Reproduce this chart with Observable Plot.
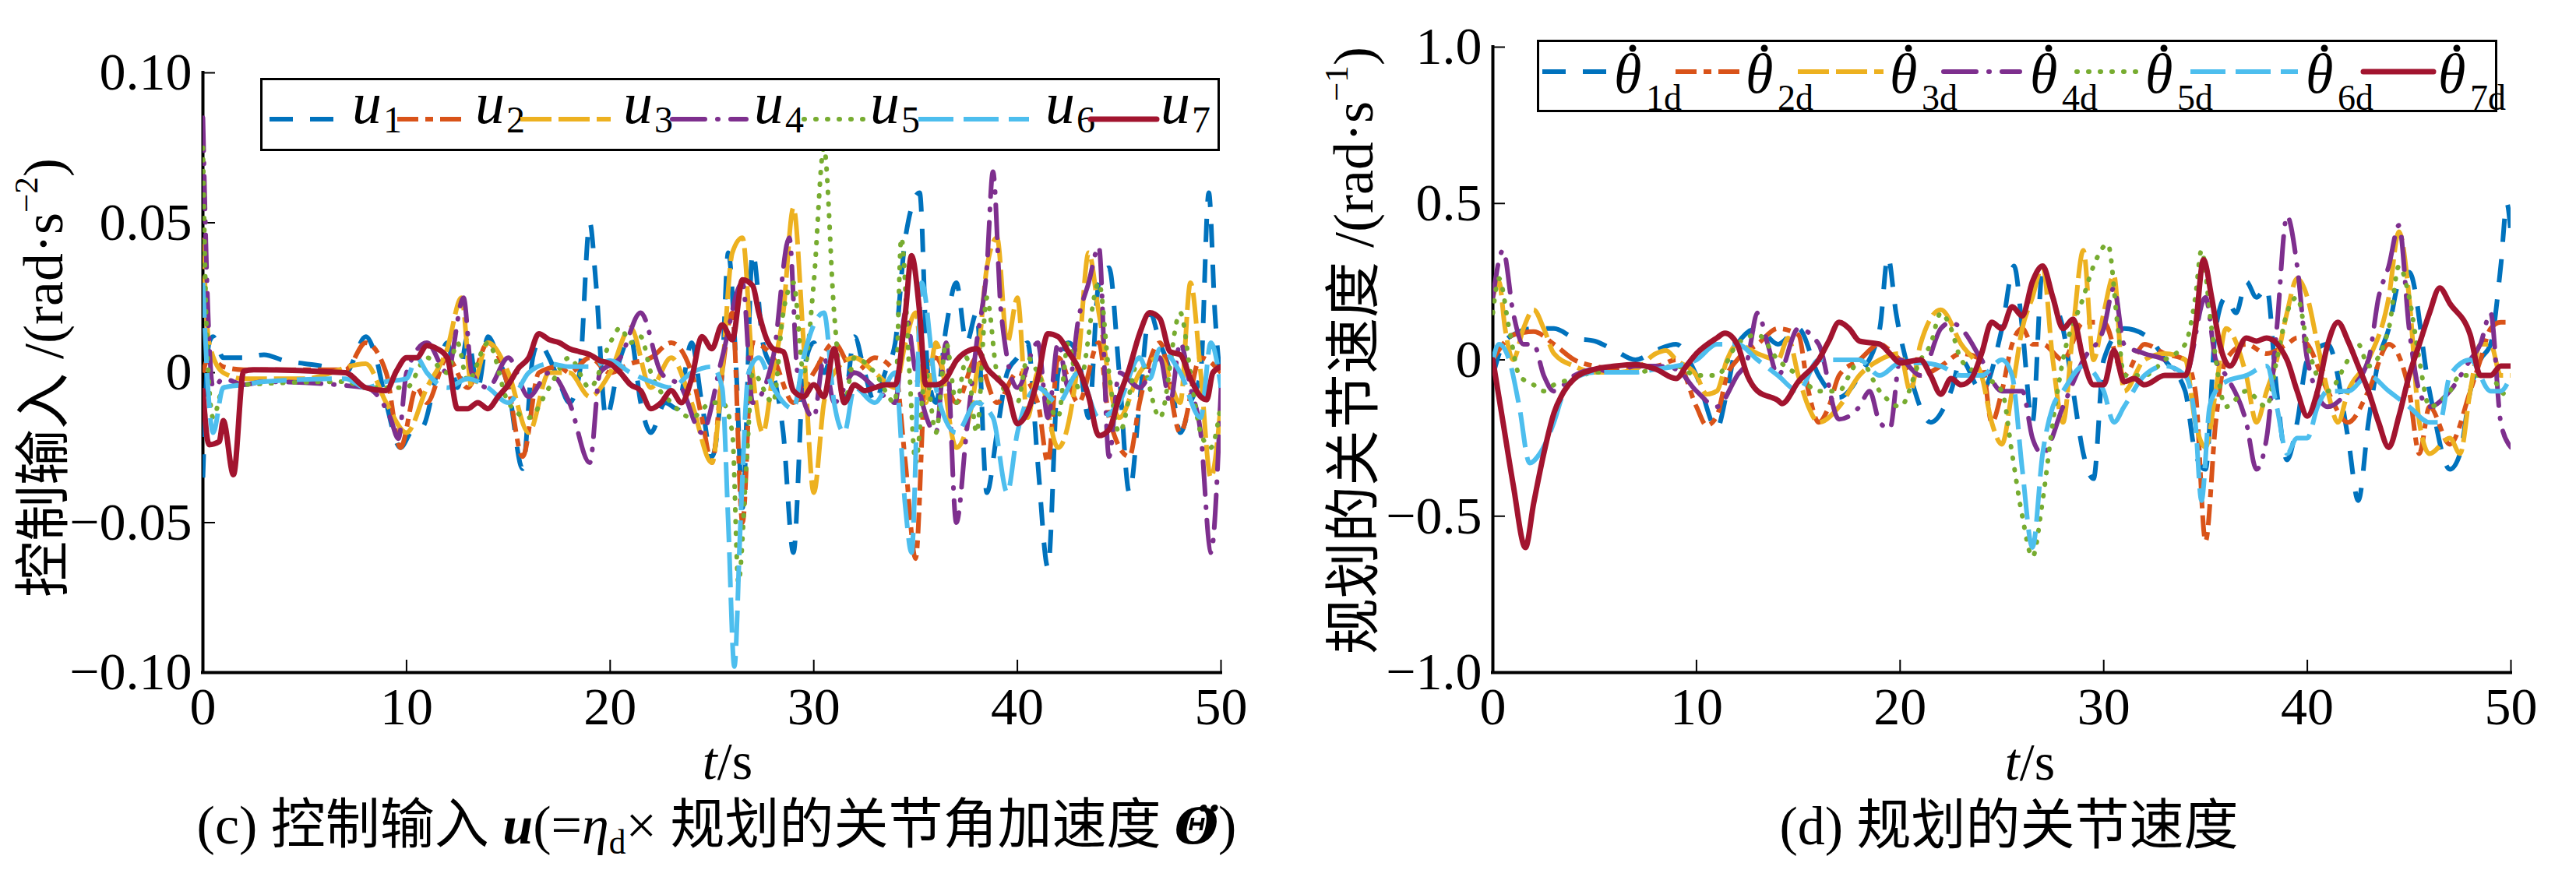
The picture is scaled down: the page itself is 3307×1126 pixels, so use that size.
<!DOCTYPE html>
<html><head><meta charset="utf-8">
<script src="https://cdn.jsdelivr.net/npm/d3@7"></script>
<script src="https://cdn.jsdelivr.net/npm/@observablehq/plot@0.6"></script>
<style>
body{margin:0;background:#fff;}
#wrap{position:relative;width:3307px;height:1126px;background:#fff;overflow:hidden;font-family:"Liberation Serif","Times New Roman","Noto Sans CJK SC",serif;color:#000;}
.abs{position:absolute;white-space:nowrap;line-height:1;}
.ylab{font-size:72px;transform:translate(-50%,-50%) rotate(-90deg);}
.ctr{font-size:68px;transform:translate(-50%,-50%);}
.cap{font-size:70px;transform:translate(-50%,-50%);}
.dv{font-family:"DejaVu Serif",serif;font-size:0.92em;}
sup{font-size:0.6em;vertical-align:0.75em;line-height:0;}
sub{font-size:0.62em;vertical-align:-0.3em;line-height:0;}
</style></head>
<body>
<div id="wrap">
  <div id="left" class="abs" style="left:0;top:0"></div>
  <div id="right" class="abs" style="left:1650px;top:0"></div>
  <div class="abs ylab" style="left:56px;top:485px">控制输入 /(rad·s<sup>−2</sup>)</div>
  <div class="abs ylab" style="left:1738px;top:450px">规划的关节速度 /(rad·s<sup>−1</sup>)</div>
  <div class="abs ctr" style="left:934px;top:977px"><i>t</i>/s</div>
  <div class="abs ctr" style="left:2606px;top:978px"><i>t</i>/s</div>
  <div class="abs cap" style="left:920px;top:1060px">(c) 控制输入 <b><i>u</i></b>(=<i>η</i><sub>d</sub>× 规划的关节角加速度 <b><i class="dv">Θ̈</i></b>)</div>
  <div class="abs cap" style="left:2579px;top:1061px">(d) 规划的关节速度</div>
</div>
<script>
// ---------- data: time axis ticks ----------
const tTicks = [0, 10, 20, 30, 40, 50];
const uTicks = [-0.1, -0.05, 0, 0.05, 0.1];
const vTicks = [-1, -0.5, 0, 0.5, 1];

// ---------- (c) control inputs u1..u7 : [t, value] ----------
const u1 = [[0,-0.035],[0.3,0.01],[0.5,0.012],[1,0.005],[2,0.005],[3,0.006],[4,0.004],[5,0.003],[6,0.002],[7,0],[8,0.012],[8.5,0.005],[9,-0.01],[9.7,-0.025],[10.2,-0.02],[10.8,-0.018],[11.5,0],[12,0.01],[12.5,-0.005],[13,0.012],[13.5,-0.005],[14,0.012],[14.5,0.005],[15,-0.005],[15.7,-0.032],[16.2,0.005],[16.5,0.01],[17,0.005],[17.5,-0.003],[18,-0.01],[18.5,0],[19,0.05],[19.3,0.03],[19.8,-0.015],[20.5,0.005],[21,0.012],[21.5,-0.01],[22,-0.02],[22.7,-0.01],[23.3,-0.012],[24,0.01],[24.5,-0.01],[25,-0.028],[25.5,0],[25.8,0.04],[26.2,0],[26.5,-0.045],[27,0.04],[27.5,0.01],[28,0],[28.5,-0.02],[29,-0.06],[29.5,0],[30,0.01],[30.5,0],[31,0.008],[31.5,-0.01],[32,0.012],[32.5,0],[33,-0.01],[33.5,0],[34,0.01],[34.5,0.045],[35.2,0.06],[35.6,0],[36,-0.01],[36.5,0.015],[37,0.03],[37.5,0.01],[38,0.02],[38.5,-0.04],[39,-0.02],[39.5,0],[40,0.005],[40.5,0.01],[41,-0.03],[41.5,-0.065],[42,0],[42.5,0.01],[43,0.005],[43.5,-0.015],[44,0.03],[44.5,0.035],[45,0],[45.5,-0.04],[46,-0.01],[46.5,0.02],[47,0.01],[47.5,0],[48,-0.02],[48.5,-0.01],[49,0],[49.4,0.06],[49.7,0.02],[50,-0.005]];
const u2 = [[0,0],[0.3,0.005],[1,0.002],[2,0.001],[7,0.001],[8,0.01],[9,0],[9.7,-0.025],[10.5,-0.005],[11,-0.01],[12,0.005],[13,-0.005],[14,0.01],[15,-0.005],[15.7,-0.028],[16.5,0],[17.5,0.002],[18,0],[19,0.005],[20,0],[21,0.003],[22,0.005],[23,0.01],[24,0],[24.5,-0.015],[25,-0.03],[25.5,0],[26,0.02],[26.5,-0.05],[27,0.01],[28,0.005],[29,-0.01],[30,0],[31,0.01],[32,0],[33,0.005],[34,0],[34.5,-0.03],[35,-0.062],[35.5,0],[36,0.005],[37,-0.01],[38,0.005],[39,-0.01],[40,0],[41,-0.01],[41.5,-0.03],[42,0.005],[43,-0.01],[44,0.01],[44.5,-0.015],[45.5,-0.028],[46,-0.01],[47,0.01],[48,-0.02],[49,0.005],[50,0]];
const u3 = [[0,0.045],[0.3,0.01],[1,0],[2,-0.002],[5,-0.002],[8,0.003],[9,-0.01],[10,-0.02],[11,-0.005],[12,0.008],[12.7,0.025],[13.2,-0.005],[14,0.01],[15,0],[16,-0.02],[17,0],[18,0],[19,-0.008],[20,0],[21,0.015],[22,-0.005],[23,0.005],[24,-0.01],[25,-0.03],[25.5,0],[26,0.04],[26.5,0.045],[27,0],[27.5,-0.02],[28,0],[28.5,0.02],[29,0.055],[29.5,0.01],[30,-0.04],[30.5,-0.01],[31,0],[32,0.005],[33,0],[34,-0.005],[34.5,0.01],[35,0.02],[35.5,-0.01],[36,0.01],[37,-0.025],[38,0],[38.5,0.035],[39,0.045],[39.5,0.01],[40,0.025],[40.5,-0.015],[41,0],[42,-0.025],[43,0.005],[43.5,0.04],[44,0.02],[45,-0.015],[46,0],[47,0.005],[48,-0.01],[48.5,0.03],[49,0],[49.5,-0.035],[50,-0.01]];
const u4 = [[0,0.085],[0.2,0.03],[0.5,-0.005],[1,-0.002],[2,-0.004],[3,-0.003],[8,-0.005],[9.2,-0.015],[9.6,-0.022],[10,0],[11,0.01],[12,0],[12.8,0.025],[13.2,0],[14,-0.005],[15,0.005],[16,-0.008],[17,0],[18,-0.01],[19,-0.03],[19.5,0],[20.5,0.005],[21.5,0.02],[22.5,0],[23.5,-0.005],[24.5,-0.02],[25.5,0.005],[26.5,0.03],[27,-0.01],[28,0.005],[28.8,0.045],[29.2,0],[30,-0.015],[30.5,0.005],[31,-0.01],[32,0],[33,-0.005],[34,-0.01],[34.5,0.02],[35,0],[36,-0.02],[36.5,0.01],[37,-0.05],[37.5,-0.02],[38,0.01],[38.5,0.035],[38.8,0.067],[39.2,0.02],[40,-0.005],[41,0.01],[41.5,-0.015],[42,0.01],[42.5,-0.005],[43,0.018],[43.5,0.03],[44,0.042],[44.5,-0.028],[45,0],[46,-0.005],[47,0.005],[47.5,-0.01],[48,0.01],[48.5,-0.005],[49,-0.02],[49.5,-0.06],[50,-0.005]];
const u5 = [[0,0.075],[0.2,0.01],[0.5,-0.015],[1,-0.005],[2,-0.004],[7,-0.003],[8,-0.005],[10,-0.005],[11,0.005],[12,0],[12.5,0.01],[13,-0.003],[14,0.01],[15,-0.01],[16,-0.015],[17,-0.005],[18,0.005],[19,-0.005],[20,0.01],[20.5,0.015],[21,0.01],[21.5,0.012],[22,0],[23,-0.01],[24,-0.015],[25,-0.01],[25.5,-0.01],[26,-0.02],[26.3,-0.07],[26.7,-0.03],[27,0],[28,-0.01],[28.5,0.02],[29,0.03],[29.5,0],[30,0.03],[30.5,0.075],[31,0.02],[31.5,-0.01],[32,0.005],[33,0],[34,-0.01],[34.3,0.045],[34.7,0],[35,-0.03],[35.5,0],[36,-0.02],[36.5,0.01],[37,-0.01],[37.5,0.005],[38,-0.02],[38.5,0.025],[39,0],[40,-0.01],[40.5,0.005],[41,0],[42,-0.015],[42.5,0.01],[43,-0.005],[44,0.03],[44.5,0],[45,-0.02],[46,0.005],[47,-0.015],[48,0.02],[48.5,0],[49,-0.02],[49.5,-0.025],[50,-0.01]];
const u6 = [[0,0.03],[0.3,-0.01],[0.5,-0.02],[1,-0.005],[2,-0.004],[3,-0.003],[7,-0.002],[8,-0.005],[9,-0.003],[10,-0.002],[10.5,0.005],[11,0],[12,-0.005],[13,-0.002],[14,-0.005],[15,-0.01],[16,0],[17,0.003],[18,0.002],[19,0.002],[20,0.004],[21,0],[22,-0.003],[23,-0.005],[24,0],[25,0.002],[25.5,-0.005],[25.8,-0.05],[26.1,-0.098],[26.4,-0.05],[26.8,0],[27.3,0.005],[28,-0.005],[29,-0.012],[29.5,0.005],[30.5,0.02],[31,-0.01],[31.5,-0.02],[32,-0.005],[33,-0.01],[34,0],[34.5,-0.045],[34.8,-0.06],[35.3,0.03],[36,-0.005],[37,-0.02],[38,-0.01],[38.8,-0.015],[39.5,-0.04],[40,-0.02],[41,-0.005],[42,-0.01],[43,0],[44,-0.015],[45,-0.01],[46,0.005],[46.5,-0.002],[47,0.008],[48,0],[49,-0.015],[49.5,0.01],[50,-0.005]];
const u7 = [[0,-0.006],[0.3,-0.024],[0.8,-0.023],[1.0,-0.016],[1.5,-0.034],[2,0.0005],[2.5,0.001],[7,0],[8,-0.005],[9,-0.006],[9.5,0.0005],[10,0.005],[10.5,0.005],[11,0.009],[11.5,0.008],[12,0.005],[12.5,-0.012],[13,-0.012],[13.5,-0.01],[14,-0.012],[14.5,-0.008],[15,-0.004],[15.5,0.0015],[16,0.005],[16.5,0.013],[17,0.011],[17.5,0.01],[18,0.008],[18.5,0.007],[19,0.006],[19.5,0.004],[20,0.003],[20.5,0],[21,-0.004],[21.5,-0.006],[22,-0.012],[22.5,-0.01],[23,-0.006],[23.5,-0.01],[24,-0.002],[24.5,0.012],[25,0.008],[25.5,0.016],[26,0.011],[26.5,0.031],[27,0.029],[27.3,0.02],[27.7,0.011],[28,0.008],[28.5,0.007],[29,-0.006],[29.5,-0.008],[30,-0.004],[30.5,-0.008],[31,0.008],[31.5,-0.01],[32,-0.004],[32.5,-0.006],[33,-0.005],[33.5,-0.004],[34,-0.004],[34.5,0.02],[34.8,0.039],[35.2,0.02],[35.5,-0.004],[36,-0.004],[36.5,-0.002],[37,0.004],[37.5,0.007],[38,0.008],[38.5,0.0015],[39,-0.002],[39.5,-0.006],[40,-0.017],[40.5,-0.013],[41,-0.002],[41.5,0.013],[42,0.012],[42.5,0.007],[43,0.0015],[43.5,-0.008],[44,-0.021],[44.5,-0.019],[45,-0.008],[45.5,0.0015],[46,0.013],[46.5,0.02],[47,0.018],[47.5,0.007],[48,0.006],[48.5,-0.002],[49,-0.008],[49.3,-0.009],[49.6,0],[50,0.002]];

// ---------- (d) planned joint velocities θ1d..θ7d : [t, value] ----------
const th1 = [[0,-0.05],[0.5,0.05],[1,0.08],[2,0.1],[3,0.1],[4,0.07],[5,0.06],[6,0.03],[7,0],[8,0.03],[9,0.05],[10,-0.05],[11,-0.22],[11.5,-0.1],[12,0.05],[13,0.1],[14,0.05],[15,0.1],[16,-0.05],[17,-0.12],[18,-0.05],[19,0.1],[19.4,0.33],[19.8,0.15],[20.5,-0.05],[21.5,-0.2],[22.5,-0.1],[23,0],[24,-0.1],[25,0.1],[25.6,0.3],[26,0.1],[26.5,-0.2],[27,0.29],[27.5,0.2],[28,0.1],[28.5,-0.1],[29,-0.3],[29.5,-0.38],[30,0],[31,0.1],[32,0.08],[32.5,0.05],[33,0],[34,-0.1],[34.5,-0.3],[35,-0.35],[35.5,0.1],[36,0.2],[36.5,0.15],[37,0.25],[37.5,0.2],[38,0.23],[38.5,-0.1],[39,-0.32],[39.5,-0.2],[40,0],[41,0.05],[42,-0.25],[42.5,-0.45],[43,-0.2],[43.5,0],[44,0.1],[44.5,0.25],[45,0.28],[46,-0.1],[47,-0.35],[47.5,-0.3],[48,-0.1],[48.5,0],[49,0.05],[49.5,0.3],[49.8,0.5],[50,0.4]];
const th2 = [[0,0],[0.5,0.05],[1,0.08],[2,0.09],[3,0.05],[4,0],[5,-0.02],[6,-0.03],[7,-0.02],[8,-0.02],[9,0],[10,-0.15],[10.5,-0.21],[11,-0.18],[11.5,-0.05],[12,0],[13,0.05],[14,0.1],[15,0.08],[15.5,-0.1],[16,-0.2],[16.5,-0.15],[17,-0.05],[18,0],[19,0.05],[19.5,0.03],[20,0],[21,-0.05],[22,-0.02],[23,0.02],[24,0],[24.5,-0.2],[25,-0.1],[25.5,0.05],[26,0.1],[26.5,0.05],[27,0.05],[28,0],[29,0.12],[30,0.12],[31,-0.05],[32,0.05],[33,0.02],[34,0],[34.5,-0.1],[35,-0.58],[35.5,-0.2],[36,0],[37,0.05],[38,0.02],[39,0.05],[39.5,0.07],[40,0.05],[41,-0.1],[42,-0.2],[43,-0.1],[44,0.05],[45,-0.1],[45.5,-0.3],[46,-0.15],[47,-0.27],[48,-0.1],[48.5,0],[49,0.1],[49.5,0.12],[50,0.12]];
const th3 = [[0,0.2],[0.3,0.25],[0.6,0.1],[1,0],[1.5,0.1],[2,0.16],[2.5,0.1],[3,0.02],[4,-0.02],[5,-0.04],[6,-0.04],[7,-0.03],[8,0.02],[8.5,0.03],[9,0],[10,-0.05],[10.5,-0.11],[11,-0.1],[11.5,0],[12,0.05],[13,0.02],[14,0],[14.5,0.07],[15,-0.05],[15.5,-0.15],[16,-0.2],[17,-0.15],[18,-0.05],[19,0],[20,0.02],[20.5,-0.1],[21,0.05],[22,0.16],[23,0.05],[24,-0.05],[24.5,-0.2],[25,-0.27],[25.5,-0.1],[26,0.1],[26.5,0.2],[27,0.3],[27.5,0],[28,-0.2],[28.5,0.1],[29,0.35],[29.5,0],[30,0.15],[30.5,0.27],[31,-0.1],[32,0],[33,0.02],[34,0],[34.5,-0.2],[35,-0.28],[35.5,-0.1],[36,0.1],[37,-0.05],[37.5,-0.2],[38,-0.1],[38.5,0],[39,0.15],[39.5,0.26],[40,0.2],[40.5,0.05],[41,-0.1],[41.5,-0.2],[42,-0.1],[43,0],[44,0.2],[44.5,0.41],[45,0.2],[45.5,-0.2],[46,-0.3],[47,-0.25],[47.5,-0.3],[48,-0.1],[48.5,0.05],[49,0.05],[49.5,-0.05],[50,-0.05]];
const th4 = [[0,0.2],[0.5,0.35],[1,0.15],[1.5,0.05],[2,0.05],[2.5,-0.05],[3,-0.1],[4,-0.05],[5,-0.03],[6,-0.04],[7,-0.02],[8,-0.02],[9,-0.03],[10,-0.1],[11,-0.15],[12,-0.05],[12.5,0],[13,0.15],[13.5,0.05],[14,-0.05],[15,0.1],[16,0.05],[17,-0.19],[18,-0.15],[18.5,-0.1],[19,-0.2],[19.5,-0.22],[20,0],[21,-0.05],[22,0.1],[22.5,0.12],[23,0.1],[24,0],[25,-0.1],[26,-0.1],[26.5,-0.25],[27,-0.3],[28,-0.15],[29,0],[30,0.1],[30.5,0.23],[31,0.05],[32,0.02],[33,0],[34,-0.05],[35,0.2],[35.5,0],[36,-0.05],[37,-0.2],[37.5,-0.35],[38,-0.25],[38.5,0.1],[39,0.46],[39.5,0.3],[40,0],[41,-0.15],[42,-0.1],[43,0],[43.5,0.2],[44,0.3],[44.5,0.43],[45,0.1],[45.5,-0.1],[46,-0.15],[47,-0.1],[48,0],[48.5,0.05],[49,0.15],[49.5,-0.2],[50,-0.28]];
const th5 = [[0,0.15],[0.3,0.26],[0.8,0.1],[1.3,-0.05],[2,-0.08],[2.5,-0.1],[3,-0.08],[4,-0.06],[5,-0.04],[7,-0.04],[8,-0.03],[9,-0.02],[10,-0.05],[11,-0.05],[12,0.05],[13,0.08],[14,0],[15,-0.05],[16,-0.1],[17,-0.1],[17.5,-0.05],[18,0],[19,-0.1],[20,-0.15],[21,0],[21.5,0.05],[22,0.15],[22.5,0.1],[23,0],[24,-0.05],[25,-0.1],[25.5,-0.3],[26,-0.5],[26.5,-0.63],[27,-0.45],[27.5,-0.2],[28,0],[29,0.2],[29.5,0.3],[30.2,0.37],[30.7,0.1],[31,-0.05],[32,-0.05],[33,0],[34,0.05],[34.5,0.2],[34.8,0.35],[35.3,0.1],[36,-0.15],[37,-0.1],[38,-0.15],[38.5,0],[39,0.15],[39.5,0.2],[40,0.05],[41,-0.1],[42,0],[42.5,0.05],[43,-0.02],[44,0.1],[44.5,0.3],[45,0.2],[45.5,0],[46,-0.15],[47,-0.1],[47.5,-0.05],[48,-0.05],[49,-0.05],[49.5,-0.1],[50,-0.12]];
const th6 = [[0,0],[0.3,0.05],[0.8,0],[1.3,-0.15],[1.8,-0.33],[2.3,-0.3],[3,-0.2],[3.5,-0.1],[4,-0.06],[5,-0.04],[7,-0.04],[8,-0.03],[9,-0.02],[10,0],[11,0.05],[12,0.05],[13,0],[14,-0.05],[15,-0.1],[16,0],[17,0],[18,0],[19,-0.05],[20,-0.01],[21,-0.01],[22,-0.02],[23,-0.05],[24,-0.05],[25,0],[25.5,-0.05],[26,-0.35],[26.5,-0.6],[27,-0.3],[27.5,-0.15],[28,-0.1],[29,-0.02],[30,-0.1],[30.5,-0.2],[31,-0.15],[32,-0.05],[33,-0.02],[34,-0.05],[34.5,-0.2],[34.8,-0.45],[35.2,-0.15],[35.5,-0.1],[36,-0.07],[37,-0.05],[38,-0.02],[38.5,-0.15],[39,-0.3],[39.5,-0.25],[40,-0.25],[40.5,-0.15],[41,-0.1],[42,-0.1],[43,-0.05],[44,-0.1],[45,-0.15],[46,-0.2],[46.5,-0.2],[47,-0.05],[48,0],[49,-0.1],[49.5,-0.1],[50,-0.05]];
const th7 = [[0,0],[0.5,-0.2],[1,-0.4],[1.6,-0.6],[2,-0.46],[2.5,-0.3],[3,-0.17],[3.5,-0.1],[4,-0.06],[5,-0.03],[6,-0.02],[7,-0.015],[8,-0.03],[9,-0.06],[9.5,-0.02],[10,0.02],[11,0.07],[11.4,0.085],[12,0.05],[12.5,-0.05],[13,-0.1],[14,-0.13],[14.2,-0.14],[15,-0.07],[16,0],[16.5,0.06],[17,0.12],[17.5,0.1],[18,0.06],[19,0.05],[19.5,0.02],[20,-0.01],[21,0],[21.5,-0.05],[22,-0.11],[22.5,-0.06],[23,-0.08],[23.5,-0.06],[24,0.02],[24.5,0.12],[25,0.1],[25.5,0.17],[26,0.14],[26.5,0.25],[27,0.3],[27.5,0.2],[28,0.1],[28.5,0.13],[29,0],[29.5,-0.08],[30,-0.08],[30.5,0.03],[31,-0.07],[31.5,-0.06],[32,-0.08],[33,-0.05],[34,-0.05],[34.5,0.1],[34.9,0.32],[35.3,0.2],[35.7,0.05],[36.2,-0.02],[37,0.07],[37.5,0.06],[38,0.07],[39,0],[39.5,-0.1],[40,-0.18],[40.5,-0.1],[41,0.05],[41.5,0.12],[42,0.06],[42.5,-0.02],[43,-0.1],[43.5,-0.2],[44,-0.28],[44.5,-0.18],[45,-0.05],[45.5,0.05],[46,0.15],[46.5,0.23],[47,0.18],[48,0.08],[48.5,-0.05],[49,-0.05],[49.5,-0.02],[50,-0.02]];

const uSeries = [u1, u2, u3, u4, u5, u6, u7];
const thSeries = [th1, th2, th3, th4, th5, th6, th7];
const uNames = ["1","2","3","4","5","6","7"];
const thNames = ["1d","2d","3d","4d","5d","6d","7d"];

// ---------- styles ----------
const colors = ["#0072BD","#D95319","#EDB120","#7E2F8E","#77AC30","#4DBEEE","#A2142F"];
const dashes = ["30,22","27,9,10,9","40,9","42,16,1,16","1,14","45,13",null];
const caps   = ["butt","butt","butt","round","round","butt","round"];
const widths = [6,6,6,6,6,6,7];
const FONT = "'Liberation Serif','Times New Roman',serif";

function fmtU(d){ return d === 0 ? "0" : (d < 0 ? "\u2212" : "") + Math.abs(d).toFixed(2); }
function fmtV(d){ return d === 0 ? "0" : (d < 0 ? "\u2212" : "") + Math.abs(d).toFixed(1); }

function panel({series, yDomain, yTicks, fmt, width, height, mL, mR, mT, mB}) {
  const innerW = width - mL - mR, innerH = height - mT - mB;
  const marks = [
    Plot.ruleX(tTicks, {x: d => d, insetTop: innerH - 16, stroke: "#000", strokeWidth: 2}),
    Plot.ruleY(yTicks, {y: d => d, insetRight: innerW - 16, stroke: "#000", strokeWidth: 2}),
    Plot.ruleX([0], {stroke: "#000", strokeWidth: 4, strokeLinecap: "square"}),
    Plot.ruleY([yDomain[0]], {stroke: "#000", strokeWidth: 4, strokeLinecap: "square"}),
    Plot.axisX({ticks: tTicks, tickSize: 0, tickPadding: 18, tickFormat: d => String(d), label: null, fill: "#000"}),
    Plot.axisY({ticks: yTicks, tickSize: 0, tickPadding: 14, tickFormat: fmt, label: null, fill: "#000"})
  ];
  series.forEach((s, i) => {
    const o = {x: d => d[0], y: d => d[1], stroke: colors[i], strokeWidth: widths[i],
      strokeLinecap: caps[i], strokeLinejoin: "round", curve: "monotone-x", clip: true};
    if (dashes[i]) o.strokeDasharray = dashes[i];
    marks.push(Plot.line(s, o));
  });
  return Plot.plot({
    width, height, marginLeft: mL, marginRight: mR, marginTop: mT, marginBottom: mB,
    x: {domain: [0, 50]}, y: {domain: yDomain},
    style: {fontFamily: FONT, fontSize: "68px", background: "transparent", overflow: "visible", color: "#000"},
    marks
  });
}

document.getElementById("left").appendChild(panel({
  series: uSeries, yDomain: [-0.1, 0.1], yTicks: uTicks, fmt: fmtU,
  width: 1627, height: 963, mL: 260, mR: 60, mT: 93, mB: 100
}));
document.getElementById("right").appendChild(panel({
  series: thSeries, yDomain: [-1, 1], yTicks: vTicks, fmt: fmtV,
  width: 1633, height: 963, mL: 266, mR: 60, mT: 60, mB: 100
}));

// ---------- legends ----------
const wrap = d3.select("#wrap");
function legend({left, top, w, h, lineY, sampleX, sampleW, labelX, base, subDy, symbol, names, symSize, subSize, subDx, dotY}) {
  const svg = wrap.append("svg").attr("class", "abs")
    .style("left", left + "px").style("top", top + "px")
    .attr("width", w).attr("height", h).style("overflow", "visible");
  svg.append("rect").attr("x", 1.5).attr("y", 1.5).attr("width", w - 3).attr("height", h - 3)
    .attr("fill", "#fff").attr("stroke", "#000").attr("stroke-width", 3);
  names.forEach((n, i) => {
    const ln = svg.append("line").attr("x1", sampleX[i]).attr("x2", sampleX[i] + sampleW[i])
      .attr("y1", lineY).attr("y2", lineY).attr("stroke", colors[i]).attr("stroke-width", widths[i])
      .attr("stroke-linecap", caps[i]);
    if (dashes[i]) ln.attr("stroke-dasharray", dashes[i]);
    const t = svg.append("text").attr("y", base).attr("font-family", FONT);
    t.append("tspan").attr("x", labelX[i]).attr("font-size", symSize).attr("font-style", "italic").text(symbol);
    t.append("tspan").attr("x", labelX[i] + subDx).attr("dy", subDy).attr("font-size", subSize).text(n);
    if (dotY != null) svg.append("circle").attr("cx", labelX[i] + 24).attr("cy", dotY).attr("r", 4.5).attr("fill", "#000");
  });
}
legend({left: 334, top: 100, w: 1232, h: 94, lineY: 53,
  sampleX: [12,176,334,529,698,845,1066], sampleW: [85,89,116,95,79,142,85],
  labelX: [118,276,466,634,783,1008,1156], base: 58, subDy: 12, symbol: "u", names: uNames,
  symSize: 76, subSize: 48, subDx: 40, dotY: null});
legend({left: 1973, top: 51, w: 1233, h: 93, lineY: 41,
  sampleX: [7,178,335,522,693,839,1061], sampleW: [87,85,110,98,83,138,90],
  labelX: [99,268,453,633,781,987,1157], base: 68, subDy: 22, symbol: "\u03B8", names: thNames,
  symSize: 72, subSize: 46, subDx: 41, dotY: 11});
</script>
</body></html>
